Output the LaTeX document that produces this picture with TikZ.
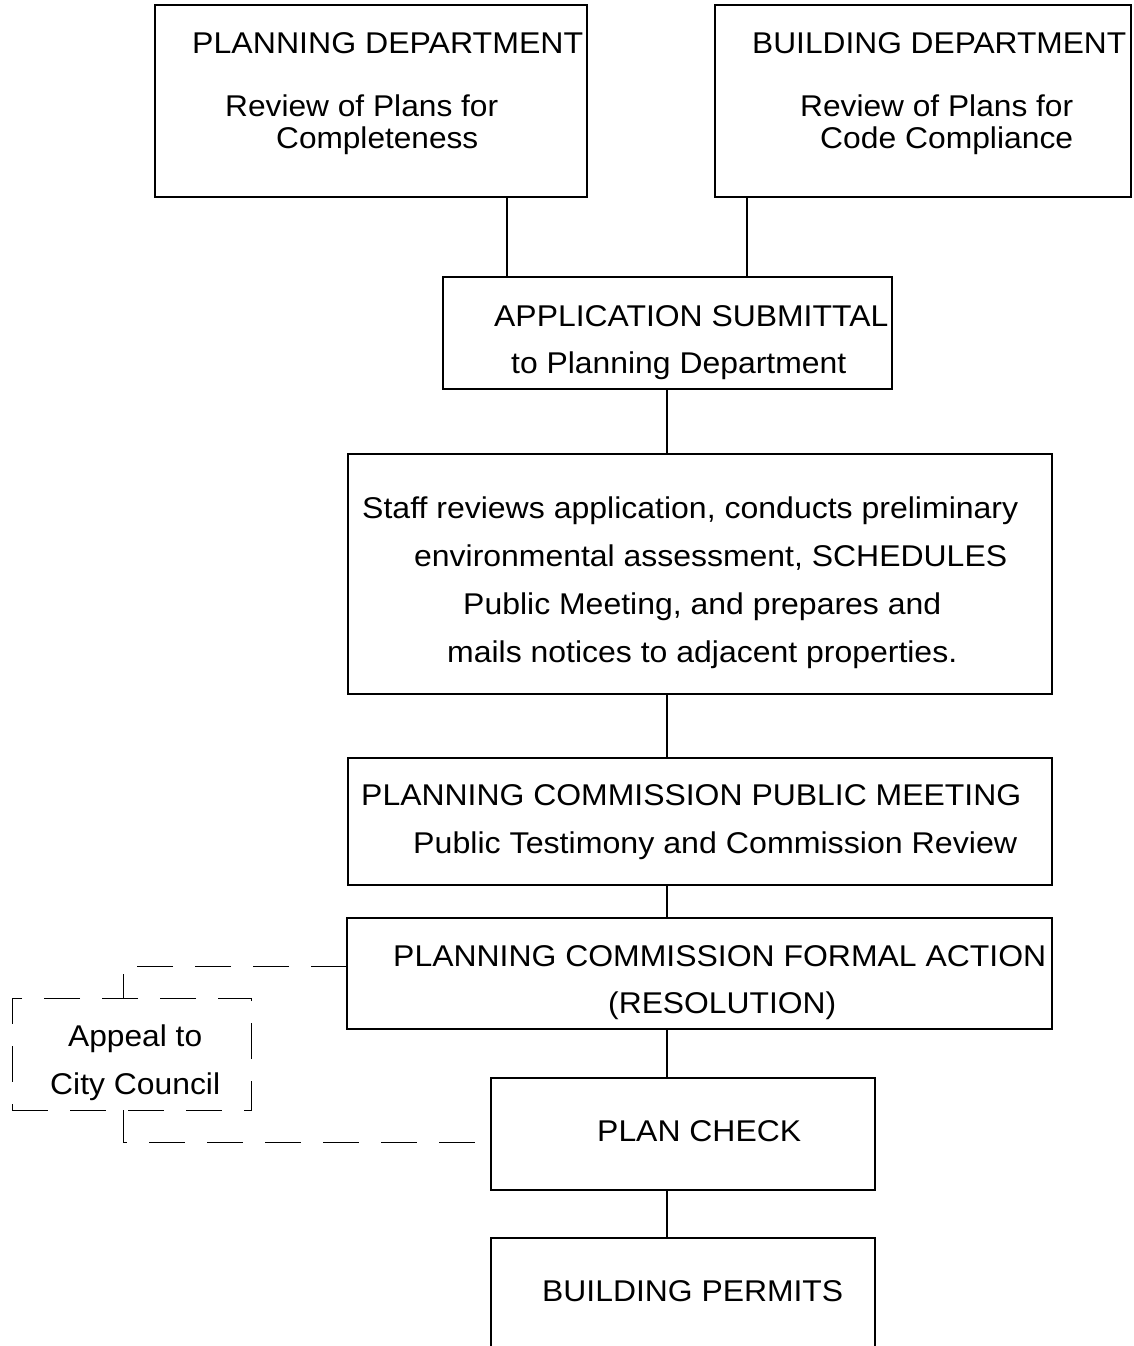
\documentclass[tikz,border=0pt]{standalone}
\usepackage{fontspec}
\setmainfont{Liberation Sans}
\usepackage{graphicx}
\newcommand{\fitline}[2]{\resizebox{#1pt}{\height}{#2}}
\begin{document}
\begin{tikzpicture}[x=1pt,y=-1pt,
  box/.style={draw, line width=1.8pt, inner sep=0pt, outer sep=0pt},
  ghost/.style={inner sep=0pt, outer sep=0pt},
  dbox/.style={draw, line width=1pt, dash pattern=on 36pt off 22pt, inner sep=0pt, outer sep=0pt},
  lbl/.style={inner sep=0pt, anchor=base west, font=\fontsize{30}{36}\selectfont},
  wire/.style={line width=1.8pt},
  dwire/.style={line width=1pt, dash pattern=on 36pt off 22pt}]
\fill[white] (0,0) rectangle (1134,1346);
\useasboundingbox (0,0) rectangle (1134,1346);

% boxes
\node[box, minimum width=432pt, minimum height=192pt] (pd) at (371,101) {};
\node[box, minimum width=416pt, minimum height=192pt] (bd) at (923,101) {};
\node[box, minimum width=449pt, minimum height=112pt] (app) at (667.5,333) {};
\node[box, minimum width=704pt, minimum height=240pt] (staff) at (700,574) {};
\node[box, minimum width=704pt, minimum height=127pt] (meet) at (700,821.5) {};
\node[box, minimum width=705pt, minimum height=111pt] (formal) at (699.5,973.5) {};
\node[dbox, minimum width=239pt, minimum height=112pt] (appeal) at (131.5,1054) {};
\node[box, minimum width=384pt, minimum height=112pt] (check) at (683,1134) {};
\node[ghost, minimum width=384pt, minimum height=112pt] (permits) at (683,1294) {};
\draw[wire] (permits.south west) -- (permits.north west) -- (permits.north east) -- (permits.south east);

% texts
\node[lbl] (t1) at (192,54) {\fitline{391}{PLANNING DEPARTMENT}};
\node[lbl] (t2) at (225,116) {\fitline{273}{Review of Plans for}};
\node[lbl] (t3) at (276,148) {\fitline{202}{Completeness}};
\node[lbl] (t4) at (752,54) {\fitline{374}{BUILDING DEPARTMENT}};
\node[lbl] (t5) at (800,116) {\fitline{273}{Review of Plans for}};
\node[lbl] (t6) at (820,148) {\fitline{253}{Code Compliance}};
\node[lbl] (t7) at (494,326) {\fitline{394}{APPLICATION SUBMITTAL}};
\node[lbl] (t8) at (511,373) {\fitline{335}{to Planning Department}};
\node[lbl] (t9) at (362,518) {\fitline{656}{Staff reviews application, conducts preliminary}};
\node[lbl] (t10) at (414,566) {\fitline{593}{environmental assessment, SCHEDULES}};
\node[lbl] (t11) at (463,614) {\fitline{478}{Public Meeting, and prepares and}};
\node[lbl] (t12) at (447,662) {\fitline{510}{mails notices to adjacent properties.}};
\node[lbl] (t13) at (361,805) {\fitline{660}{PLANNING COMMISSION PUBLIC MEETING}};
\node[lbl] (t14) at (413,853) {\fitline{604}{Public Testimony and Commission Review}};
\node[lbl] (t15) at (393,966) {\fitline{653}{PLANNING COMMISSION FORMAL ACTION}};
\node[lbl] (t16) at (608,1013) {\fitline{228}{(RESOLUTION)}};
\node[lbl] (t17) at (68,1046) {\fitline{134}{Appeal to}};
\node[lbl] (t18) at (50,1094) {\fitline{170}{City Council}};
\node[lbl] (t19) at (597,1141) {\fitline{204}{PLAN CHECK}};
\node[lbl] (t20) at (542,1301) {\fitline{301}{BUILDING PERMITS}};

% connector reference coordinates
\coordinate (xa) at (507,0);
\coordinate (xb) at (747,0);
\coordinate (xm) at (667,0);
\coordinate (xd) at (123,0);
\coordinate (ytop) at (0,966);
\coordinate (ybot) at (0,1142);

% solid connectors
\draw[wire] (pd.south -| xa) -- (app.north -| xa);
\draw[wire] (bd.south -| xb) -- (app.north -| xb);
\draw[wire] (app.south -| xm) -- (staff.north -| xm);
\draw[wire] (staff.south -| xm) -- (meet.north -| xm);
\draw[wire] (meet.south -| xm) -- (formal.north -| xm);
\draw[wire] (formal.south -| xm) -- (check.north -| xm);
\draw[wire] (check.south -| xm) -- (permits.north -| xm);

% dashed appeal connectors
\draw[dwire] (formal.west |- ytop) -- (xd |- ytop) -- (appeal.north -| xd);
\draw[dwire] (appeal.south -| xd) -- (xd |- ybot) -- (check.west |- ybot);
\end{tikzpicture}
\end{document}
